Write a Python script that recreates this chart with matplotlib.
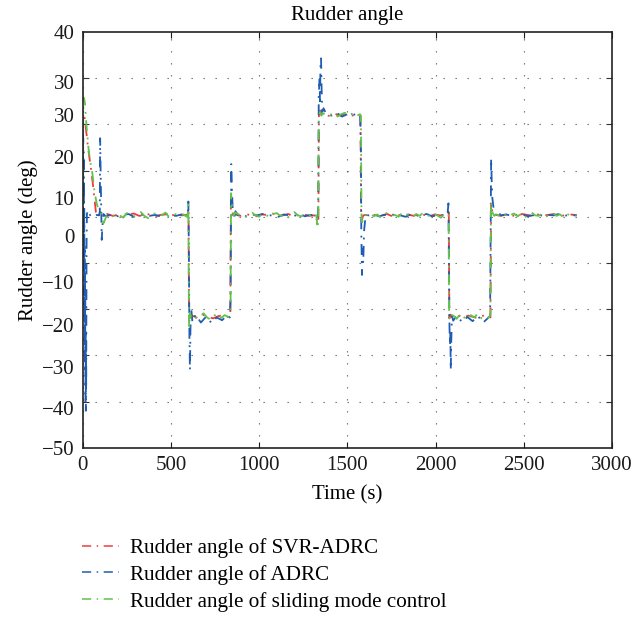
import matplotlib
matplotlib.use("Agg")
import matplotlib.pyplot as plt
from matplotlib.lines import Line2D

plt.rcParams['font.family'] = ['Liberation Serif', 'DejaVu Serif']

# y tick labels as printed (positions as they sit on the grid scale)
ytick_pos = [40, 29.2, 22.0, 12.9, 4.1, -4.2, -14.1, -23.4, -32.5, -41.4, -50]
ytick_txt = ['40', '30', '30', '20', '10', '0',
             '\u221210', '\u221220', '\u221230', '\u221240', '\u221250']
ygrid = [30, 20, 10, 0, -10, -20, -30, -40]
xticks = [0, 500, 1000, 1500, 2000, 2500, 3000]

labels = ['Rudder angle of SVR-ADRC', 'Rudder angle of ADRC',
          'Rudder angle of sliding mode control']

# SVR-ADRC
svr_t = ([0, 2, 6, 12, 20, 32, 45, 58, 68, 75, 82, 92] + list(range(110, 591, 30))
         + [597, 600, 603, 608] + list(range(620, 831, 30))
         + [837, 840, 845, 852] + list(range(865, 1316, 30))
         + [1330, 1336, 1339, 1346, 1355] + list(range(1370, 1551, 30))
         + [1574, 1578, 1583, 1590] + list(range(1605, 2056, 30))
         + [2072, 2075, 2078, 2084] + list(range(2095, 2306, 30))
         + [2311, 2315, 2320, 2328] + list(range(2340, 2791, 30)) + [2800])
svr_v = ([8, 21, 22.2, 21.3, 18.5, 14.5, 11, 7, 3.5, 1, 0, 0.4]
         + [0.3, 0.6, 0.2, 0.4, 0.0, 0.5, 0.7, 0.2, 0.3, 0.6, 0.1, 0.4, 0.5, 0.2, 0.6, 0.3, 0.4]
         + [0.6, 1.8, -22.5, -21.4]
         + [-21.4, -21.9, -21.2, -21.7, -22.0, -21.5, -21.3, -21.8]
         + [-21.6, 4.0, 1.8, 0.4]
         + [0.5, 0.2, 0.6, 0.3, 0.1, 0.5, 0.4, 0.7, 0.2, 0.3, 0.6, 0.1, 0.4, 0.5, 0.2, 0.3]
         + [-1.8, -0.6, 22.3, 23.0, 22.1]
         + [22.1, 21.8, 22.3, 21.9, 22.4, 22.0, 21.8]
         + [22.0, 0.8, -0.6, 0.3]
         + [0.4, 0.2, 0.5, 0.3, 0.6, 0.1, 0.4, 0.3, 0.5, 0.2, 0.6, 0.4, 0.1, 0.5, 0.3, 0.4]
         + [1.0, 1.8, -22.0, -21.2]
         + [-21.6, -21.2, -21.9, -21.4, -21.7, -22.0, -21.3, -21.6]
         + [-21.8, 2.8, 1.4, 0.3]
         + [0.4, 0.2, 0.5, 0.3, 0.1, 0.6, 0.4, 0.2, 0.5, 0.3, 0.4, 0.6, 0.2, 0.3, 0.5, 0.4] + [0.3])

# ADRC
adrc_t = (list(range(0, 23)) + [24, 27, 35, 50, 65, 80, 92, 97, 99, 102, 105, 108, 112, 118, 126]
          + list(range(140, 591, 30))
          + [596, 599, 602, 605, 608, 611, 616, 622] + list(range(640, 821, 30))
          + [834, 838, 842, 846, 850, 858, 866, 880] + list(range(900, 1321, 30))
          + [1331, 1335, 1338, 1342, 1345, 1348, 1351, 1354, 1358, 1365] + list(range(1380, 1561, 30))
          + [1573, 1577, 1579, 1581, 1583, 1586, 1590, 1595, 1600, 1608] + list(range(1620, 2041, 30))
          + [2060, 2068, 2073, 2076, 2079, 2082, 2084, 2086, 2089, 2093, 2100] + list(range(2120, 2301, 30))
          + [2309, 2311, 2313, 2315, 2318, 2322, 2330, 2340, 2350] + list(range(2370, 2791, 30)) + [2800])
adrc_v = ([10, 19, 8, 17, 3, 14, -6, 8, -12, 2, -20, -6, -27, -12, -33, -18, -40, -25, -42, -30,
           -37, -15, -6, 0.5, 1.2, 0.2, 0.6, 0.1, 0.4, 0.3, 1.0, 17.0, 9.0, 2.0, -5.0, -2.0, 0.6, 0.2]
          + [0.2, 0.5, 0.1, 0.4, 0.6, 0.0, 0.3, 0.5, 0.2, 0.4, 0.1, 0.6, 0.3, 0.2, 0.5, 0.3]
          + [0.5, 3.3, -8, -26, -33.2, -24, -20.2, -22.8]
          + [-21.2, -22.9, -21.6, -23.0, -21.8, -22.4, -21.3]
          + [-21.8, -18, 11.4, 6, 1.9, -0.6, 1.2, 0.3]
          + [0.4, 0.1, 0.5, 0.3, 0.6, 0.2, 0.4, 0.0, 0.5, 0.3, 0.2, 0.6, 0.1, 0.4, 0.3]
          + [-1.2, 2, 26, 30, 25, 33, 34.3, 28, 22.7, 23.5]
          + [22.3, 21.9, 22.5, 21.7, 22.2, 22.0, 22.4]
          + [22.0, 15, -3, -8, -12.6, -7, -10, -3, -1.1, 0.4]
          + [0.3, 0.5, 0.1, 0.4, 0.2, 0.6, 0.3, 0.0, 0.5, 0.2, 0.4, 0.6, 0.1, 0.3, 0.4]
          + [0.3, 0.6, 2.9, -10, -24, -28, -25, -33.2, -27, -21.5, -22.5]
          + [-21.4, -22.8, -21.7, -22.6, -21.5, -22.9, -21.8]
          + [-21.5, -10, 5, 12.7, 8, 4, 1.5, 0.4, 1.2]
          + [0.3, 0.5, 0.2, 0.4, 0.6, 0.1, 0.3, 0.5, 0.2, 0.4, 0.3, 0.6, 0.2, 0.4, 0.3] + [0.3])

# sliding mode control
smc_t = ([0, 2, 5, 9, 13, 22, 32, 41, 55, 66, 79, 92, 104, 112, 118, 126, 135] + list(range(150, 591, 20))
         + [596, 599, 602, 604, 608, 615] + list(range(625, 826, 20))
         + [834, 838, 841, 845, 850, 856, 866] + list(range(880, 1321, 20))
         + [1326, 1331, 1335, 1338, 1345, 1352] + list(range(1365, 1566, 20))
         + [1572, 1577, 1580, 1584, 1590, 1598] + list(range(1610, 2051, 20))
         + [2065, 2071, 2074, 2077, 2081, 2088] + list(range(2100, 2301, 20))
         + [2307, 2311, 2314, 2318, 2324, 2332] + list(range(2345, 2786, 20)) + [2800])
smc_v = ([3, 18, 25.8, 25.4, 24.6, 19.5, 15.2, 12.3, 9.4, 5.8, 2.9, 1.4, 0.7, -0.3, -1.4, -0.7, 0.2]
         + [0.5, 0.1, 0.6, 0.3, -0.2, 0.8, 0.4, 0.0, 0.6, 1.0, 0.2, -0.3, 0.5, 0.7, 0.1, 0.4, 0.9, -0.1, 0.3, 0.6, 0.2, 0.5, 0.0]
         + [0.8, 2.6, -22.0, -24.5, -20.8, -21.8]
         + [-21.2, -22.0, -21.5, -20.9, -21.8, -22.3, -21.4, -21.0, -21.9, -21.3, -21.7]
         + [-21.4, -20.5, 5.1, 3.2, 1.5, 0.3, 0.9]
         + [0.6, 0.2, -0.2, 0.5, 0.9, 0.3, 0.0, 0.7, 0.4, -0.1, 0.6, 0.8, 0.2, 0.4, -0.3, 0.5, 1.0, 0.3, 0.1, 0.6, 0.4, 0.2, 0.7]
         + [-0.2, -2.5, -0.5, 21.5, 22.7, 21.9]
         + [22.4, 21.8, 22.1, 22.6, 21.7, 22.2, 22.5, 21.9, 22.3, 21.6, 22.1]
         + [22.2, 21.8, 0.5, -1.2, -0.2, 0.5]
         + [0.3, 0.7, 0.1, 0.5, -0.2, 0.6, 0.9, 0.2, 0.4, 0.0, 0.8, 0.3, 0.5, -0.1, 0.6, 0.2, 0.9, 0.4, 0.1, 0.7, 0.3, -0.2, 0.5]
         + [0.3, 0.6, 0.5, -21.5, -22.3, -21.2]
         + [-21.4, -22.1, -21.0, -21.7, -22.4, -21.3, -21.8, -20.9, -22.0, -21.5, -21.9]
         + [-21.6, -21.0, 3.3, 2.0, 0.8, 0.2]
         + [0.5, 0.2, 0.8, 0.0, 0.4, 0.7, 0.1, 0.6, -0.2, 0.5, 0.9, 0.3, 0.2, 0.7, 0.0, 0.4, 0.8, 0.2, 0.5, -0.1, 0.6, 0.3, 0.4] + [0.3])

colors = ['#f03a3a', '#1f5cb4', '#62c24a']
dash = (0, (6, 3.6, 1, 3.6))

fig = plt.figure(figsize=(6.34, 6.17), dpi=100)
ax = fig.add_axes([0.1304, 0.2744, 0.8349, 0.6737])

ax.plot(svr_t, svr_v, color=colors[0], lw=1.3, linestyle=dash)
ax.plot(adrc_t, adrc_v, color=colors[1], lw=1.3, linestyle=dash)
ax.plot(smc_t, smc_v, color=colors[2], lw=1.3, linestyle=dash)

ax.set_xlim(0, 3000)
ax.set_ylim(-50, 40)
ax.set_xticks(xticks)
ax.set_xticklabels([str(x) for x in xticks])
ax.set_yticks(ytick_pos)
ax.set_yticklabels(ytick_txt)
ax.set_yticks(ygrid, minor=True)

ax.tick_params(axis='both', which='major', labelsize=15, colors='#1a1a1a')
ax.tick_params(axis='x', which='major', direction='in', length=4, width=0.8,
               top=True, bottom=True, pad=6)
ax.tick_params(axis='y', which='major', length=0, pad=6)
ax.tick_params(axis='y', which='minor', direction='in', length=4, width=0.8,
               left=True, right=True, color='#333333')
ax.xaxis.set_minor_locator(matplotlib.ticker.NullLocator())

ax.grid(True, axis='x', which='major', color='#666666', lw=0.8, linestyle=(0, (1.2, 9.6)))
ax.grid(True, axis='y', which='minor', color='#666666', lw=0.8, linestyle=(0, (1.2, 9.6)))
ax.grid(False, axis='y', which='major')

for s in ax.spines.values():
    s.set_linewidth(1.2)
    s.set_color('#222222')

ax.set_title('Rudder angle', fontsize=15, pad=9)
ax.set_xlabel('Time (s)', fontsize=15, labelpad=7)
ax.set_ylabel('Rudder angle (deg)', fontsize=15, labelpad=3)

handles = [Line2D([], [], color=c, lw=1.1, linestyle=dash) for c in colors]
fig.legend(handles, labels, loc='upper left', bbox_to_anchor=(81.7 / 634, 1 - 538 / 617),
           frameon=False, fontsize=15.2, handlelength=1.75, handletextpad=0.55,
           labelspacing=0.33, borderpad=0, borderaxespad=0)

fig.savefig('out.png', dpi=100)
